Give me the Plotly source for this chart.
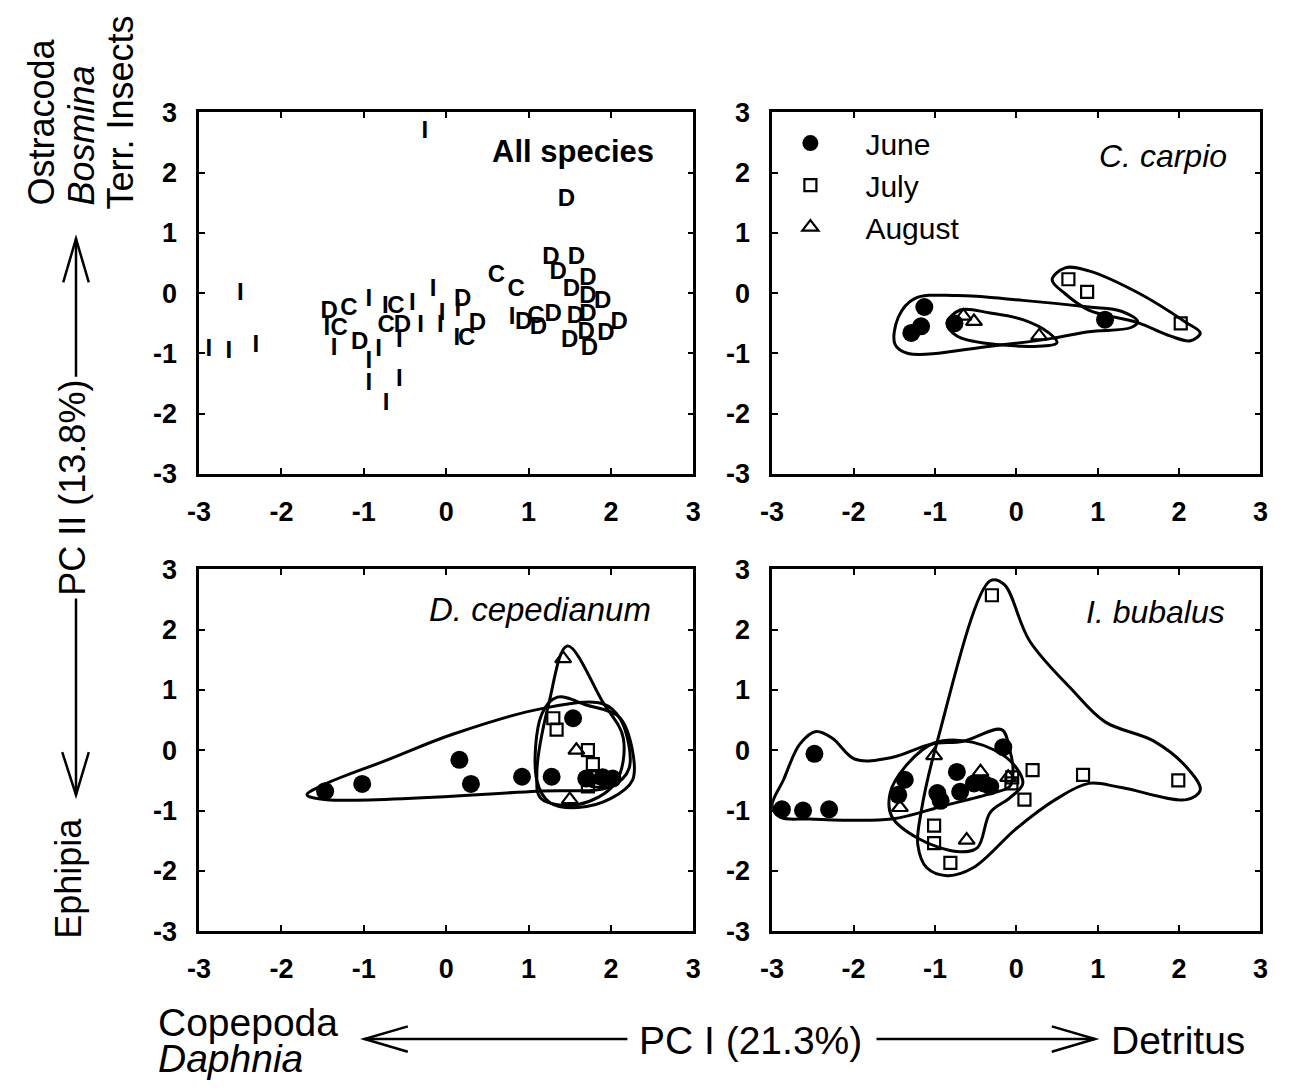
import plotly.graph_objects as go
from plotly.subplots import make_subplots

# ---------------- data ----------------
TICKS = [-3, -2, -1, 0, 1, 2, 3]

# Panel A: All species (text markers I, C, D)
all_I_x = [-0.26, -2.5, -2.88, -2.64, -2.31, -1.45, -1.36, -0.94, -0.94, -0.94, -0.82, -0.57,
           -0.73, -0.74, -0.41, -0.57, -0.31, -0.07, -0.16, -0.05, 0.14, 0.13, 0.80]
all_I_y = [2.68, -0.02, -0.95, -0.98, -0.87, -0.6, -0.92, -0.11, -1.15, -1.5, -0.95, -1.44,
           -1.84, -0.23, -0.18, -0.8, -0.55, -0.55, 0.06, -0.34, -0.28, -0.76, -0.42]
all_C_x = [-1.18, -1.30, -0.73, -0.61, 0.25, 0.61, 0.85, 1.09]
all_C_y = [-0.26, -0.6, -0.55, -0.23, -0.76, 0.29, 0.05, -0.39]
all_D_x = [1.46, -1.42, -1.05, -0.53, 0.20, 0.38, 0.94, 1.12, 1.30, 1.27, 1.58, 1.36, 1.72,
           1.52, 1.72, 1.90, 1.57, 1.72, 2.10, 1.50, 1.70, 1.94, 1.74]
all_D_y = [1.55, -0.31, -0.82, -0.55, -0.12, -0.52, -0.5, -0.58, -0.36, 0.58, 0.58, 0.34, 0.23,
           0.06, -0.06, -0.15, -0.39, -0.36, -0.5, -0.79, -0.66, -0.68, -0.92]

# Panel B: C. carpio
cc_june_x = [-1.13, -1.17, -1.29, -0.76, 1.09]
cc_june_y = [-0.23, -0.55, -0.66, -0.5, -0.44]
cc_july_x = [0.64, 0.87, 2.02]
cc_july_y = [0.23, 0.02, -0.5]
cc_aug_x = [-0.65, -0.52, 0.28]
cc_aug_y = [-0.38, -0.47, -0.71]
cc_hull_june_x = [-1.25, -0.73, 0.08, 0.89, 1.29, 1.49, 1.41, 0.89, 0.44, -0.32, -1.33, -1.49, -1.45, -1.25]
cc_hull_june_y = [-0.09, -0.04, -0.12, -0.23, -0.30, -0.47, -0.57, -0.64, -0.75, -0.88, -1.0, -0.85, -0.4, -0.09]
cc_hull_july_x = [0.6, 0.89, 1.49, 2.09, 2.26, 2.14, 1.89, 1.49, 0.89, 0.6, 0.44, 0.6]
cc_hull_july_y = [0.42, 0.37, 0.01, -0.49, -0.66, -0.79, -0.71, -0.49, -0.28, -0.01, 0.22, 0.42]
cc_hull_aug_x = [-0.69, -0.32, 0.08, 0.40, 0.50, 0.40, -0.32, -0.73, -0.85, -0.69]
cc_hull_aug_y = [-0.28, -0.33, -0.44, -0.66, -0.82, -0.87, -0.84, -0.71, -0.5, -0.28]

# Panel C: D. cepedianum
dc_june_x = [-1.47, -1.02, 0.16, 0.30, 0.92, 1.28, 1.54, 1.70, 1.90, 2.02]
dc_june_y = [-0.68, -0.56, -0.16, -0.56, -0.44, -0.44, 0.53, -0.47, -0.45, -0.47]
dc_july_x = [1.30, 1.34, 1.72, 1.78, 1.82, 1.72]
dc_july_y = [0.53, 0.34, 0.0, -0.23, -0.45, -0.6]
dc_aug_x = [1.42, 1.58, 1.5, 1.85]
dc_aug_y = [1.52, 0.0, -0.82, -0.55]
dc_hull_june_x = [-1.45, -0.73, 0.07, 1.16, 1.9, 2.12, 2.22, 2.0, 1.1, -1.45, -1.69, -1.45]
dc_hull_june_y = [-0.55, -0.17, 0.26, 0.69, 0.77, 0.5, -0.3, -0.6, -0.68, -0.82, -0.74, -0.55]
dc_hull_july_x = [1.16, 1.35, 1.7, 2.1, 2.26, 2.26, 2.0, 1.6, 1.26, 1.1, 1.16]
dc_hull_july_y = [0.6, 0.88, 0.75, 0.55, 0.0, -0.5, -0.8, -0.95, -0.87, -0.5, 0.6]
dc_hull_aug_x = [1.47, 1.9, 2.15, 2.05, 1.6, 1.15, 1.1, 1.25, 1.47]
dc_hull_aug_y = [1.73, 0.8, 0.2, -0.55, -0.9, -0.8, -0.4, 0.8, 1.73]

# Panel D: I. bubalus
ib_june_x = [-2.48, -2.88, -2.62, -2.30, -1.37, -1.45, -0.73, -0.97, -0.93, -0.69, -0.40, -0.32, -0.16, -0.52]
ib_june_y = [-0.06, -0.98, -1.0, -0.98, -0.49, -0.74, -0.36, -0.71, -0.84, -0.69, -0.55, -0.6, 0.05, -0.55]
ib_july_x = [-0.30, 0.20, 0.82, 1.99, 0.10, -1.01, -1.01, -0.81, -0.06, -0.05]
ib_july_y = [2.57, -0.33, -0.41, -0.5, -0.82, -1.25, -1.54, -1.87, -0.55, -0.45]
ib_aug_x = [-1.01, -1.43, -0.61, -0.44, -0.1]
ib_aug_y = [-0.09, -0.95, -1.49, -0.36, -0.45]
ib_hull_june_x = [-2.86, -2.66, -2.46, -2.26, -1.98, -1.53, -1.05, -0.65, -0.18, -0.08, -0.04, -0.08,
                  -0.32, -0.89, -1.53, -2.54, -2.90, -3.0, -2.86]
ib_hull_june_y = [-0.49, 0.10, 0.31, 0.20, -0.15, -0.12, 0.10, 0.15, 0.34, 0.0, -0.33, -0.60,
                  -0.72, -0.92, -1.14, -1.14, -1.11, -0.92, -0.49]
ib_hull_july_x = [-0.32, -0.15, 0.16, 0.68, 1.09, 1.69, 2.09, 2.26, 2.09, 1.29, 0.89, 0.48, 0.0,
                  -0.53, -0.85, -1.1, -1.21, -1.17, -0.97, -0.32]
ib_hull_july_y = [2.81, 2.75, 1.82, 1.01, 0.47, 0.15, -0.28, -0.66, -0.82, -0.62, -0.55, -0.82, -1.3,
                  -1.95, -2.08, -1.95, -1.57, -1.03, 0.15, 2.81]
ib_hull_aug_x = [-1.37, -1.01, -0.53, -0.08, 0.08, -0.08, -0.32, -0.48, -0.73, -1.21, -1.53, -1.55, -1.37]
ib_hull_aug_y = [-0.28, 0.12, 0.13, -0.17, -0.55, -0.79, -1.03, -1.62, -1.68, -1.46, -1.1, -0.71, -0.28]

PANEL_LABELS = ["All species", "C. carpio", "D. cepedianum", "I. bubalus"]
MONTHS = ["June", "July", "August"]

# ---------------- figure ----------------
W, H = 1300, 1091
FONT = "Liberation Sans, Arial, Helvetica, sans-serif"


def px(x):
    return x / W


def py(y):
    return 1 - y / H


fig = make_subplots(rows=2, cols=2)

# Panel A text markers
for xs, ys, ch in [(all_I_x, all_I_y, "I"), (all_C_x, all_C_y, "C"), (all_D_x, all_D_y, "D")]:
    fig.add_trace(go.Scatter(x=xs, y=ys, mode="text", text=[ch] * len(xs),
                             textposition="middle center",
                             textfont=dict(family=FONT, size=24, color="black", weight="bold"),
                             showlegend=False, hoverinfo="skip"), row=1, col=1)

MK = {
    "June": dict(symbol="circle", size=18, color="black", line=dict(width=0)),
    "July": dict(symbol="square-open", size=12, color="black", line=dict(width=2.2)),
    "August": dict(symbol="triangle-up-open", size=14, color="black", line=dict(width=2.2)),
}

panels = [
    (1, 2, [(cc_june_x, cc_june_y), (cc_july_x, cc_july_y), (cc_aug_x, cc_aug_y)],
     [(cc_hull_june_x, cc_hull_june_y), (cc_hull_july_x, cc_hull_july_y), (cc_hull_aug_x, cc_hull_aug_y)]),
    (2, 1, [(dc_june_x, dc_june_y), (dc_july_x, dc_july_y), (dc_aug_x, dc_aug_y)],
     [(dc_hull_june_x, dc_hull_june_y), (dc_hull_july_x, dc_hull_july_y), (dc_hull_aug_x, dc_hull_aug_y)]),
    (2, 2, [(ib_june_x, ib_june_y), (ib_july_x, ib_july_y), (ib_aug_x, ib_aug_y)],
     [(ib_hull_june_x, ib_hull_june_y), (ib_hull_july_x, ib_hull_july_y), (ib_hull_aug_x, ib_hull_aug_y)]),
]

for r, c, pts, hulls in panels:
    for hx, hy in hulls:
        fig.add_trace(go.Scatter(x=hx, y=hy, mode="lines",
                                 line=dict(color="black", width=3, shape="spline", smoothing=1.0),
                                 showlegend=False, hoverinfo="skip"), row=r, col=c)
    for (mx, my), m in zip(pts, MONTHS):
        fig.add_trace(go.Scatter(x=mx, y=my, mode="markers", name=m, marker=MK[m],
                                 showlegend=(r == 1 and c == 2), legendgroup=m),
                      row=r, col=c)

# domains
xdom = {1: [px(190), px(692)], 2: [px(772), px(1268)]}
ydom = {1: [py(472), py(100)], 2: [py(942), py(570)]}
axis_common = dict(range=[-3, 3], tickvals=TICKS, ticktext=[str(t) for t in TICKS],
                   ticks="inside", ticklen=6, tickwidth=2, tickcolor="black",
                   showline=True, linewidth=2.5, linecolor="black", mirror="ticks",
                   showgrid=False, zeroline=False,
                   tickfont=dict(family=FONT, size=27, color="black", weight="bold"))
k = 0
for r in (1, 2):
    for c in (1, 2):
        k += 1
        sx = "" if k == 1 else str(k)
        fig.layout["xaxis" + sx].update(domain=xdom[c], ticklabelstandoff=12, **axis_common)
        fig.layout["yaxis" + sx].update(domain=ydom[r], ticklabelstandoff=14, **axis_common)

# panel labels
lab_pos = [(654, 140), (1236, 145), (651, 611), (1234, 614)]
lab_size = [31, 32, 33, 32]
for i, (lab, (lx, ly)) in enumerate(zip(PANEL_LABELS, lab_pos)):
    txt = "<b>%s</b>" % lab if i == 0 else "<i>%s</i>" % lab
    fig.add_annotation(x=px(lx), y=py(ly), xref="paper", yref="paper", text=txt,
                       showarrow=False, xanchor="right", yanchor="middle",
                       font=dict(family=FONT, size=lab_size[i], color="black"))

# axis titles (left, rotated)
LEFT_SIZE = 36
left_texts = [("Ostracoda", 30, 110), ("<i>Bosmina</i>", 71, 124), ("Terr. Insects", 110, 100),
              ("PC II (13.8%)", 62, 486), ("Ephipia", 57, 888)]
for t, lx, ly in left_texts:
    fig.add_annotation(x=px(lx), y=py(ly), xref="paper", yref="paper", text=t, textangle=-90,
                       showarrow=False, xanchor="center", yanchor="middle",
                       font=dict(family=FONT, size=LEFT_SIZE, color="black"))

BOT_SIZE = 39
fig.add_annotation(x=px(146), y=py(1036), xref="paper", yref="paper", text="Copepoda",
                   showarrow=False, xanchor="left", yanchor="middle",
                   font=dict(family=FONT, size=BOT_SIZE, color="black"))
fig.add_annotation(x=px(146), y=py(1073), xref="paper", yref="paper", text="<i>Daphnia</i>",
                   showarrow=False, xanchor="left", yanchor="middle",
                   font=dict(family=FONT, size=BOT_SIZE, color="black"))
fig.add_annotation(x=px(750), y=py(1055), xref="paper", yref="paper", text="PC I (21.3%)",
                   showarrow=False, xanchor="center", yanchor="middle",
                   font=dict(family=FONT, size=BOT_SIZE, color="black"))
fig.add_annotation(x=px(1114), y=py(1055), xref="paper", yref="paper", text="Detritus",
                   showarrow=False, xanchor="left", yanchor="middle",
                   font=dict(family=FONT, size=BOT_SIZE, color="black"))


def pline(points):
    return "M " + " L ".join("%f,%f" % (px(a), py(b)) for a, b in points)


arrow_paths = [
    [(65, 372), (65, 230)], [(52, 275), (65, 230), (78, 275)],
    [(65, 600), (65, 802)], [(51, 758), (65, 802), (78, 758)],
    [(358, 1053), (625, 1053)], [(402, 1040), (358, 1053), (402, 1066)],
    [(878, 1053), (1100, 1053)], [(1056, 1040), (1100, 1053), (1056, 1066)],
]
for p in arrow_paths:
    fig.add_shape(type="path", path=pline(p), xref="paper", yref="paper",
                  line=dict(color="black", width=2.5))

fig.update_layout(
    width=W, height=H, margin=dict(l=0, r=0, t=0, b=0),
    paper_bgcolor="white", plot_bgcolor="white",
    showlegend=True,
    legend=dict(x=px(755), y=py(105), xanchor="left", yanchor="top",
                font=dict(family=FONT, size=30, color="black"),
                bgcolor="rgba(0,0,0,0)", borderwidth=0, itemwidth=100,
                tracegroupgap=0, traceorder="normal"),
)

fig.write_html("out.html")
